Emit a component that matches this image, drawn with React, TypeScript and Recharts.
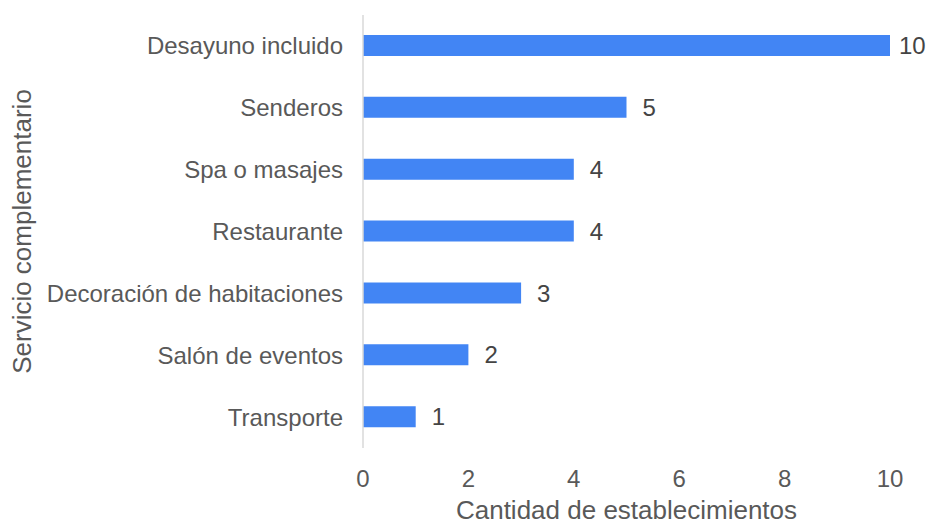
import { BarChart, Bar, XAxis, YAxis, LabelList } from 'recharts'

const servicios = [
  'Desayuno incluido',
  'Senderos',
  'Spa o masajes',
  'Restaurante',
  'Decoración de habitaciones',
  'Salón de eventos',
  'Transporte',
]
const cantidades = [10, 5, 4, 4, 3, 2, 1]
const xTicks = [0, 2, 4, 6, 8, 10]

const data = servicios.map((servicio, i) => ({ servicio, cantidad: cantidades[i] }))

const W = 928
const H = 525

// etiqueta de valor a la derecha de la barra, sin salirse del lienzo
const ValueLabel = (props: any) => {
  const { x, y, width, height, value } = props
  const lx = Math.min(x + width + 16, W - 29)
  return (
    <text
      x={lx}
      y={y + height / 2}
      dy="0.36em"
      textAnchor="start"
      fontSize={24}
      fill="#444444"
      fontFamily="Liberation Sans, Arial, sans-serif"
    >
      {value}
    </text>
  )
}

export default function App() {
  return (
    <div style={{ position: 'absolute', left: 0, top: 0, width: W, height: H, background: '#fff' }}>
      <BarChart
        width={W}
        height={H}
        data={data}
        layout="vertical"
        margin={{ top: 15, right: 38, bottom: 0, left: 0 }}
        style={{ fontFamily: 'Liberation Sans, Arial, sans-serif' }}
      >
        <XAxis
          type="number"
          domain={[0, 10]}
          ticks={xTicks}
          height={77}
          axisLine={false}
          tickLine={false}
          tickSize={0}
          tickMargin={22}
          tick={{ fontSize: 24, fill: '#595959' }}
          label={{
            value: 'Cantidad de establecimientos',
            position: 'insideBottom',
            offset: 6,
            style: { fontSize: 26, fill: '#595959' },
          }}
        />
        <YAxis
          type="category"
          dataKey="servicio"
          width={363}
          axisLine={{ stroke: '#d9d9d9', strokeWidth: 1.5 }}
          tickLine={false}
          tickSize={0}
          tickMargin={20}
          interval={0}
          tick={{ fontSize: 24, fill: '#595959' }}
          label={{
            value: 'Servicio complementario',
            angle: -90,
            position: 'insideLeft',
            offset: 22,
            style: { fontSize: 26, fill: '#595959', textAnchor: 'middle' },
          }}
        />
        <Bar dataKey="cantidad" fill="#4285F4" barSize={21} isAnimationActive={false}>
          <LabelList dataKey="cantidad" content={ValueLabel} />
        </Bar>
      </BarChart>
    </div>
  )
}
